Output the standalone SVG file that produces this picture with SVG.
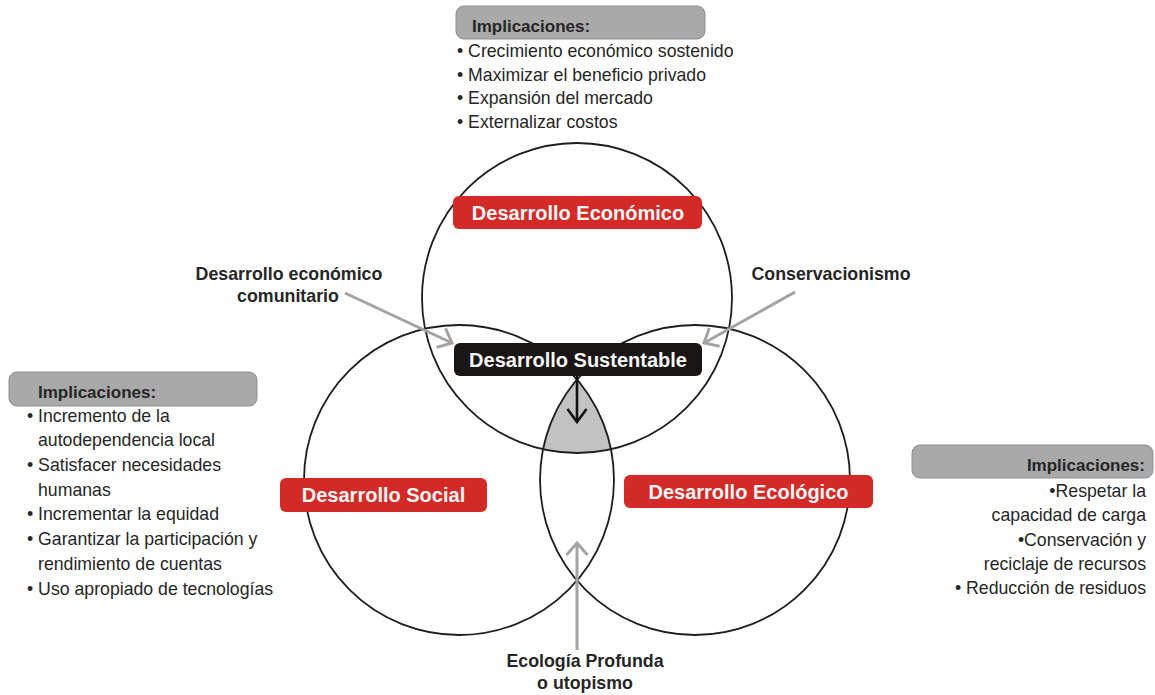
<svg xmlns="http://www.w3.org/2000/svg" width="1155" height="695" viewBox="0 0 1155 695">
<defs>
<style>
.circ{fill:none;stroke:#1e1e1e;stroke-width:1.8}
.hdr{fill:#a9a9a9;stroke:#8f8f8f;stroke-width:1}
.hdrt{font-family:"Liberation Sans",Arial,sans-serif;font-weight:bold;font-size:17px;fill:#262626}
.body{font-family:"Liberation Sans",Arial,sans-serif;font-size:17.7px;fill:#262626}
.lbl{font-family:"Liberation Sans",Arial,sans-serif;font-weight:bold;font-size:17.8px;fill:#262626;text-anchor:middle}
.red{fill:#d42a27}
.boxt{font-family:"Liberation Sans",Arial,sans-serif;font-weight:bold;font-size:20px;fill:#f6f6f6;text-anchor:middle}
.garrow{fill:none;stroke:#a3a3a3;stroke-width:3}
.barrow{fill:none;stroke:#111;stroke-width:2.6}
</style>
<marker id="chevG" viewBox="0 0 16 24" refX="14" refY="12" markerWidth="16" markerHeight="24" markerUnits="userSpaceOnUse" orient="auto">
<path d="M2,1.5 L14,12 L2,22.5" fill="none" stroke="#a3a3a3" stroke-width="3"/>
</marker>
<marker id="chevB" viewBox="0 0 16 24" refX="14" refY="12" markerWidth="16" markerHeight="24" markerUnits="userSpaceOnUse" orient="auto">
<path d="M1,2.5 L14,12 L1,21.5" fill="none" stroke="#111" stroke-width="2.6"/>
</marker>
</defs>
<rect width="1155" height="695" fill="#fff"/>

<g id="circles">
<path id="lens" d="M577,379.5 A155,155 0 0,0 542,449 A155,155 0 0,0 612,449 A155,155 0 0,0 577,379.5 Z" fill="#c2c2c2"/>
<circle id="circle-economico" class="circ" cx="577" cy="298" r="155"/>
<circle id="circle-social" class="circ" cx="459" cy="480" r="155"/>
<circle id="circle-ecologico" class="circ" cx="695" cy="480" r="155"/>
</g>

<g id="connectors">
<line class="garrow" x1="345" y1="293" x2="452" y2="343" marker-end="url(#chevG)"/>
<line class="garrow" x1="795" y1="292" x2="704" y2="343" marker-end="url(#chevG)"/>
<line class="barrow" x1="577" y1="376" x2="577" y2="422" marker-end="url(#chevB)"/>
<line class="garrow" x1="577" y1="650" x2="577" y2="543" marker-end="url(#chevG)"/>
</g>

<g id="node-economico">
<rect class="red" x="453" y="196" width="249" height="33" rx="6"/>
<text class="boxt" x="578" y="220">Desarrollo Económico</text>
</g>
<g id="node-sustentable">
<rect x="454" y="343" width="248" height="33" rx="6" fill="#1a1616"/>
<text class="boxt" x="578" y="367">Desarrollo Sustentable</text>
</g>
<g id="node-social">
<rect class="red" x="280" y="478" width="207" height="34" rx="6"/>
<text class="boxt" x="383.5" y="502">Desarrollo Social</text>
</g>
<g id="node-ecologico">
<rect class="red" x="624" y="475" width="249" height="33" rx="6"/>
<text class="boxt" x="748.5" y="499">Desarrollo Ecológico</text>
</g>

<g id="label-comunitario">
<text class="lbl" x="289" y="280">Desarrollo económico</text>
<text class="lbl" x="288" y="302">comunitario</text>
</g>
<g id="label-conservacionismo">
<text class="lbl" x="831" y="280">Conservacionismo</text>
</g>
<g id="label-ecologia-profunda">
<text class="lbl" x="585" y="667">Ecología Profunda</text>
<text class="lbl" x="585" y="689">o utopismo</text>
</g>

<g id="impl-top">
<rect class="hdr" x="456" y="6" width="249" height="33" rx="8"/>
<text class="hdrt" x="472" y="32">Implicaciones:</text>
<text class="body" x="457" y="57">• Crecimiento económico sostenido</text>
<text class="body" x="457" y="81">• Maximizar el beneficio privado</text>
<text class="body" x="457" y="104">• Expansión del mercado</text>
<text class="body" x="457" y="128">• Externalizar costos</text>
</g>

<g id="impl-left">
<rect class="hdr" x="9" y="372" width="248" height="34" rx="8"/>
<text class="hdrt" x="38" y="398">Implicaciones:</text>
<text class="body" x="27" y="422">• Incremento de la</text>
<text class="body" x="38" y="446">autodependencia local</text>
<text class="body" x="27" y="471">• Satisfacer necesidades</text>
<text class="body" x="38" y="496">humanas</text>
<text class="body" x="27" y="520">• Incrementar la equidad</text>
<text class="body" x="27" y="545">• Garantizar la participación y</text>
<text class="body" x="38" y="570">rendimiento de cuentas</text>
<text class="body" x="27" y="595">• Uso apropiado de tecnologías</text>
</g>

<g id="impl-right" text-anchor="end">
<rect class="hdr" x="912" y="445" width="241" height="33" rx="8"/>
<text class="hdrt" x="1145" y="471">Implicaciones:</text>
<text class="body" x="1146" y="497">•Respetar la</text>
<text class="body" x="1146" y="521">capacidad de carga</text>
<text class="body" x="1146" y="546">•Conservación y</text>
<text class="body" x="1146" y="570">reciclaje de recursos</text>
<text class="body" x="1146" y="594">• Reducción de residuos</text>
</g>
</svg>
